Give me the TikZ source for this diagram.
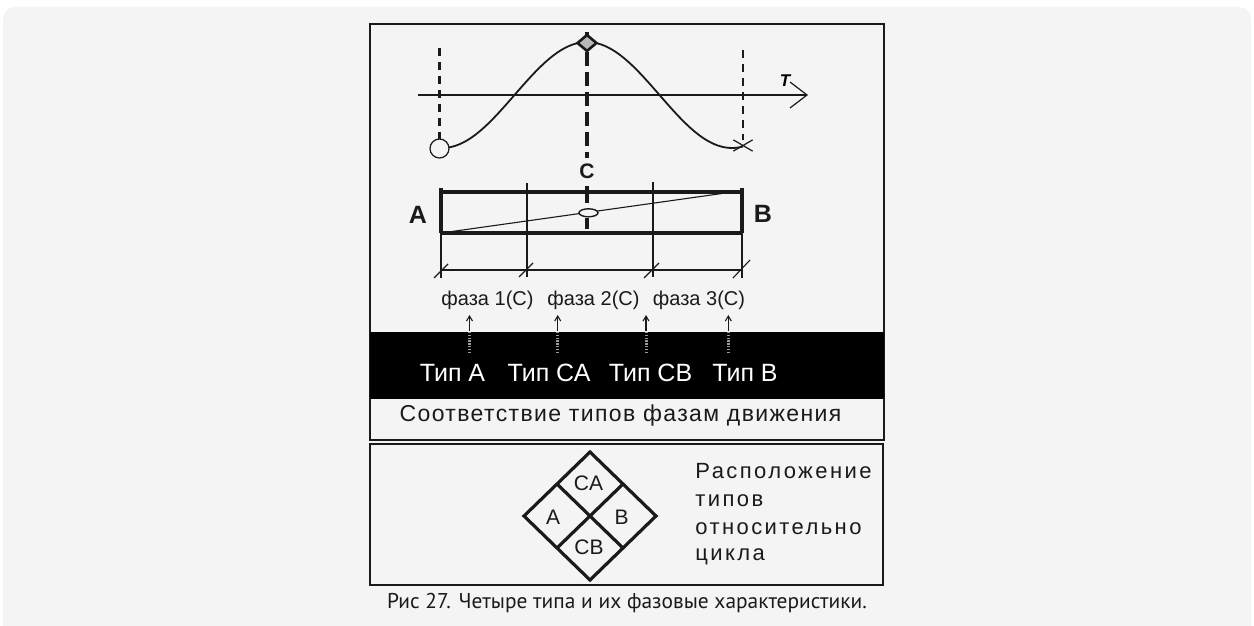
\documentclass[tikz,border=0pt]{standalone}
\usepackage{fontspec}
\setmainfont{Liberation Sans}
\newfontfamily\pixfont{Liberation Sans}
\newfontfamily\widefont[LetterSpace=6]{Liberation Sans}
\newfontfamily\widerfont[LetterSpace=11]{Liberation Sans}
\newfontfamily\capfont{PT Sans}
\usetikzlibrary{arrows.meta,shapes.geometric,shapes.misc}
\definecolor{PanelBg}{HTML}{F4F4F4}
\definecolor{InkDark}{HTML}{1A1A1A}
\definecolor{HatchGray}{HTML}{9A9A9A}

\begin{document}
\begin{tikzpicture}[
        x=0.5pt, y=-0.5pt,
        font=\pixfont,
        frame/.style={draw=InkDark, line width=1pt},
        bar/.style={draw=InkDark, line width=1.6pt},
        hair/.style={draw=InkDark, line width=0.55pt},
        sideguide/.style={draw=InkDark, line width=1.3pt, dash pattern=on 4pt off 3pt},
        midguide/.style={draw=InkDark, line width=1.6pt, dash pattern=on 7pt off 3pt},
        endlabel/.style={font=\pixfont\bfseries\fontsize{12.5}{15}\selectfont, text=InkDark, anchor=base, inner sep=0pt},
        phase/.style={font=\pixfont\fontsize{10}{12}\selectfont, text=InkDark, anchor=base, inner sep=0pt},
        typelabel/.style={font=\pixfont\fontsize{12.5}{15}\selectfont, text=white, anchor=base, inner sep=0pt},
        pointer/.style={-{Straight Barb[length=2.5pt,width=3pt]}, hair},
        hatch/.style={draw=HatchGray, line width=1.5pt, dash pattern=on 0.7pt off 0.7pt},
        cell/.style={font=\pixfont\fontsize{10.5}{12}\selectfont, text=InkDark, inner sep=0pt},
        note/.style={font=\widerfont\fontsize{11}{13}\selectfont, text=InkDark, anchor=base west, inner sep=0pt}
    ]
        \useasboundingbox (0,0) rectangle (1254,626);
        \fill[PanelBg, rounded corners=6pt] (3,7) rectangle (1251,680);

        \draw[frame] (370,24) rectangle (884,440);
        \draw[frame] (370,444) rectangle (883,585);
        \fill[black] (370,332) rectangle (884,399);

        % phase curve
        \coordinate (axisL) at (418,95);
        \coordinate (axisR) at (808,95);
        \draw[hair, line width=0.6pt, -{Straight Barb[length=8.5pt,width=13pt]}] (axisL) -- (axisR);
        \node[font=\pixfont\bfseries\itshape\fontsize{8.5}{9}\selectfont, anchor=base, inner sep=0pt] (tau) at (785,87) {T};

        \draw[sideguide] (439.5,48) -- (439.5,139);
        \draw[sideguide] (743,50) -- (743,140);
        \draw[midguide] (587,32) -- (587,158);

        \draw[hair, line width=0.9pt] plot[domain=448:743, samples=80, smooth] (\x, {95-53*cos((\x-587)*1.2414)});

        \node[circle, draw=InkDark, fill=PanelBg, line width=0.6pt, minimum size=9.5pt, inner sep=0pt] (start) at (439.5,148.5) {};
        \node[diamond, draw=InkDark, fill=gray!55, line width=1.3pt, minimum width=10pt, minimum height=8.5pt, inner sep=0pt] (peak) at (587,43) {};
        \node[cross out, draw=InkDark, line width=0.6pt, minimum width=9pt, minimum height=5pt, inner sep=0pt] (stop) at (743,145.5) {};

        % strip A -- B
        \node[endlabel, font=\pixfont\bfseries\fontsize{10.5}{12}\selectfont] (C) at (587,178) {C};
        \node[endlabel] (A) at (418,223) {A};
        \node[endlabel] (B) at (763,222.5) {B};

        \draw[bar] (441,188) -- (441,233);
        \draw[bar] (742,188) -- (742,233);
        \draw[bar] (441,192) -- (742,192);
        \draw[bar] (441,233) -- (742,233);
        \draw[hair] (441,233) -- (441,278);
        \draw[hair] (742,233) -- (742,278);
        \draw[hair] (527,183) -- (527,277);
        \draw[hair] (653,182) -- (653,277);
        \draw[hair] (452,231.5) -- (722,193.5);
        \draw[bar] (587,186) -- (587,203);
        \draw[bar] (587,218) -- (587,229);
        \node[ellipse, draw=InkDark, fill=PanelBg, line width=0.7pt, minimum width=9.5pt, minimum height=4pt, inner sep=0pt] (cpt) at (588.5,212.8) {};

        \draw[hair] (441,270) -- (742,270);
        \draw[hair] (434,278) -- (448,264);
        \draw[hair] (519,277) -- (533,263);
        \draw[hair] (644,278) -- (659,263);
        \draw[hair] (733,278) -- (750,260);

        \node[phase] (ph1) at (487.5,305) {фаза 1(С)};
        \node[phase] (ph2) at (593.5,305) {фаза 2(С)};
        \node[phase] (ph3) at (699,305) {фаза 3(С)};

        % types
        \node[typelabel] (tA) at (452.5,381.7) {Тип А};
        \node[typelabel] (tCA) at (549,381.7) {Тип СА};
        \node[typelabel] (tCB) at (650.5,381.7) {Тип СВ};
        \node[typelabel] (tB) at (745,381.7) {Тип В};

        \draw[hatch] (469.5,353) -- (469.5,331);
        \draw[hatch] (557.7,353) -- (557.7,331);
        \draw[hatch] (646,353) -- (646,331);
        \draw[hatch] (728.3,353) -- (728.3,331);
        \draw[pointer] (469.5,331) -- (469.5,315);
        \draw[pointer] (557.7,331) -- (557.7,315);
        \draw[pointer] (646,331) -- (646,315);
        \draw[pointer] (728.3,331) -- (728.3,315);

        \node[font=\widefont\fontsize{11.5}{14}\selectfont, text=InkDark, anchor=base, inner sep=0pt] (summary) at (620.5,421.7) {Соответствие типов фазам движения};

        % cycle diamond
        \node[diamond, draw=InkDark, line width=1.6pt, minimum width=66pt, minimum height=64pt, inner sep=0pt, outer sep=0pt] (wheel) at (590,516) {};
        \draw[bar] (wheel.north west) -- (wheel.south east);
        \draw[bar] (wheel.north east) -- (wheel.south west);
        \node[cell] (cCA) at (588.5,483.5) {CA};
        \node[cell] (cA) at (553,517) {A};
        \node[cell] (cB) at (621.5,517) {B};
        \node[cell] (cCB) at (589,547) {CB};

        \node[note] (loc1) at (695,478) {Расположение};
        \node[note] (loc2) at (695,506.5) {типов};
        \node[note] (loc3) at (695,534) {относительно};
        \node[note] (loc4) at (695,560.5) {цикла};

        \node[font=\capfont\fontsize{10.7}{12}\selectfont, text=InkDark, anchor=base, inner sep=0pt] (caption) at (627,608) {Рис 27. Четыре типа и их фазовые характеристики.};
\end{tikzpicture}
\end{document}
